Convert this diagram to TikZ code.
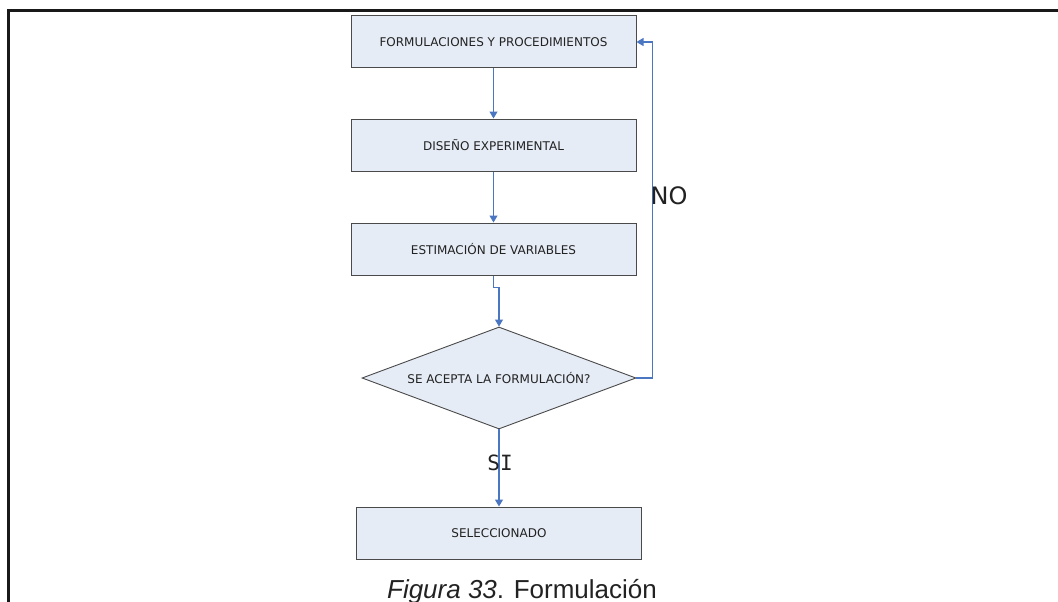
\documentclass[tikz,border=0pt]{standalone}
\usepackage{fontspec}
\setmainfont{Liberation Sans}
\newfontfamily\boxfont{DejaVu Sans}
\newfontfamily\monofont{DejaVu Sans Mono}
\usetikzlibrary{shapes.geometric,arrows.meta}
\definecolor{boxfill}{HTML}{E6ECF6}
\definecolor{boxline}{HTML}{4A4A4A}
\definecolor{arrblue}{HTML}{4A76C2}
\definecolor{txt}{HTML}{222222}
\tikzset{
  procbox/.style={draw=boxline, line width=1pt, fill=boxfill, minimum width=285pt, minimum height=52pt, inner sep=0pt, text=txt, font=\boxfont\fontsize{12}{14}\selectfont},
  decbox/.style={diamond, draw=boxline, line width=0.9pt, fill=boxfill, minimum width=274pt, minimum height=102pt, inner sep=0pt, aspect=2.7, text=txt, font=\boxfont\fontsize{12}{14}\selectfont},
  arr/.style={draw=arrblue, line width=1.1pt, -{Triangle[width=8pt,length=7pt]}},
  frameline/.style={draw=black!90, line width=3pt}
}
\begin{document}
\begin{tikzpicture}[x=1pt,y=-1pt]
\useasboundingbox (0,0) rectangle (1058,602);
\fill[white] (0,0) rectangle (1058,602);
\coordinate (fbl) at (8,602);
\coordinate (ftl) at (8,11);
\coordinate (ftr) at (1058,11);
\draw[frameline] (fbl) -- (ftl) -- (ftr);
\node[procbox] (b1) at (493.5,42) {FORMULACIONES Y PROCEDIMIENTOS};
\node[procbox] (b2) at (493.5,145) {DISEÑO EXPERIMENTAL};
\node[procbox] (b3) at (493.5,249) {ESTIMACIÓN DE VARIABLES};
\node[decbox] (d) at (499,378) {SE ACEPTA LA FORMULACIÓN?};
\node[procbox] (b4) at (499,533) {SELECCIONADO};
\draw[arr] (b1.south) -- (b2.north);
\draw[arr] (b2.south) -- (b3.north);
\draw[arr] (b3.south) -- ++(0,12) -| (d.north);
\draw[arr] (d.south) -- (b4.north);
\draw[arr] (d.east) -- ++(16,0) |- (b1.east);
\node[font=\monofont\fontsize{21}{24}\selectfont, text=txt] (si) at (500,463) {SI};
\node[font=\boxfont\fontsize{24}{28}\selectfont, text=txt] (no) at (669,196) {NO};
\node[anchor=base, font=\fontsize{26}{30}\selectfont, text=txt, inner sep=0pt] (cap) at (522,598) {\textit{Figura 33}. Formulación};
\end{tikzpicture}
\end{document}
